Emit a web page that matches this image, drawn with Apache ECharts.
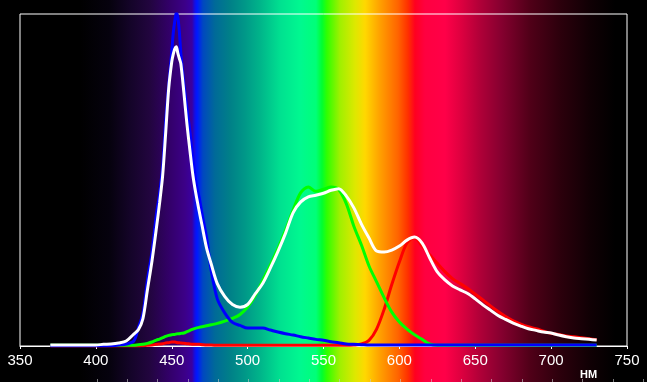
<!DOCTYPE html>
<html>
<head>
<meta charset="utf-8">
<script src="https://cdn.jsdelivr.net/npm/echarts@6/dist/echarts.min.js"></script>
<style>
html,body{margin:0;padding:0;background:#000;}
#chart{width:647px;height:382px;}
</style>
</head>
<body>
<div id="chart"></div>
<script>
// Wavelengths, nm
const wavelengths = [370,380,390,400,405,410,415,420,425,428,431,434,437,440,442,444,446,448,450,451,452,453,454,455,456,458,460,462,464,466,468,470,473,476,480,485,490,495,500,505,510,515,520,525,530,535,540,545,550,555,560,565,570,575,580,585,590,595,600,605,610,615,620,625,630,635,640,645,650,655,660,665,670,675,680,685,690,695,700,705,710,715,720,725,730];

const whiteValues = [0.3,0.3,0.3,0.3,0.5,0.6,0.9,1.5,3.6,4.9,8.2,17,25.7,35.9,43.1,51.3,64.2,77.6,85.6,87.9,89.5,90.1,88.2,86.6,85,76.3,66.9,58.8,51.2,45.6,40.8,36.2,29.4,24.7,18.8,14.9,12.5,11.7,12.5,15.7,18.9,23.5,28.5,34,40.2,43.4,44.9,45.4,46,46.9,47.4,45.2,41.6,36.7,32.5,28.6,28.3,28.9,30.1,31.9,32.8,31,26.5,22.3,19.9,18.1,16.9,15.8,14.2,12.4,10.8,9.2,8,6.9,6,5.2,4.7,4.2,3.9,3.3,2.8,2.4,2.2,2,1.8];

const blueValues = [0,0,0,0,0,0.1,0.3,0.6,1.5,5.5,9.8,20,28.5,40,46,54,67.9,78.8,88.6,94.3,97.9,100.5,99,94.7,88.1,78.9,71.6,64.6,56.3,49,44.9,39.8,32.5,22.7,14.2,9.9,7.1,6.2,5.4,5.4,5.4,4.8,4.2,3.7,3.3,2.8,2.4,2,1.7,1.3,1,0.6,0.5,0.4,0.3,0.3,0.3,0.3,0.3,0.3,0.3,0.3,0.3,0.3,0.3,0.3,0.3,0.3,0.3,0.3,0.3,0.3,0.3,0.3,0.3,0.3,0.3,0.3,0.3,0.3,0.3,0.3,0.3,0.3,0.3];

const greenValues = [0.2,0.2,0.2,0.2,0.2,0.2,0.2,0.2,0.2,0.4,0.5,0.8,1.2,1.8,2.1,2.5,2.9,3.2,3.4,3.5,3.5,3.6,3.7,3.7,3.8,3.9,4.3,4.7,5.1,5.4,5.6,5.8,6.1,6.4,6.8,7.5,8.3,9.5,11.7,15.2,19.8,24.4,29.4,34.9,41,46.2,47.9,46.6,47.2,47.9,47.1,42.9,36.1,30.4,24.1,19.3,14.5,10.2,7.2,5.1,3.4,2,0.6,0.2,0.2,0.2,0.2,0.2,0.2,0.2,0.2,0.2,0.2,0.2,0.2,0.2,0.2,0.2,0.2,0.2,0.2,0.2,0.2,0.2,0.2];

const redValues = [0,0,0,0,0,0,0,0,0,0,0.1,0.2,0.3,0.5,0.6,0.7,0.9,1,1.2,1.2,1.2,1.1,1,1,0.9,0.8,0.7,0.6,0.5,0.5,0.5,0.4,0.3,0.3,0.2,0.2,0.2,0.2,0.2,0.2,0.2,0.2,0.2,0.2,0.2,0.2,0.2,0.2,0.2,0.2,0.2,0.2,0.3,0.6,1.7,5.1,11.1,18.5,25.3,31,32.7,30.1,27.5,24.9,22.4,20.3,18.8,17.3,15.6,13.9,12.1,10.4,8.9,7.6,6.6,5.8,5.2,4.5,3.8,3.5,3,2.8,2.5,2.2,1.9];

const xTickLabels = ['350','400','450','500','550','600','650','700','750'];
const unitLabel = 'НМ';

// spectrum background stops: [pixel x, colour]
const spectrumStops = [
  [0,'#000000'],[80,'#000000'],[110,'#06020e'],[130,'#140428'],[150,'#22053f'],
  [170,'#33006a'],[185,'#3c0088'],[192,'#3a00a0'],[195,'#1010e8'],[197,'#0018ff'],
  [203,'#0048c0'],[215,'#006a98'],[230,'#008088'],[245,'#009888'],[260,'#00b48a'],
  [280,'#00e090'],[300,'#00f890'],[316,'#00ff78'],[322,'#00ff30'],[327,'#30ff00'],
  [340,'#a0f000'],[355,'#dde800'],[365,'#ffd800'],[380,'#ffa000'],[398,'#ff6400'],
  [408,'#ff3000'],[415,'#ff0020'],[425,'#ff0040'],[445,'#ff0048'],[460,'#e00040'],
  [480,'#b00038'],[500,'#880030'],[530,'#500018'],[560,'#2c000c'],[590,'#100004'],
  [615,'#000000'],[647,'#000000']
];

const W = 647, H = 382;
const chart = echarts.init(document.getElementById('chart'), null, {renderer:'canvas'});

function pairs(vals){ return wavelengths.map((w,i)=>[w, vals[i]]); }
function lineSeries(name, vals, color){
  return {
    name, type:'line', xAxisIndex:0, yAxisIndex:0, data: pairs(vals),
    showSymbol:false, smooth:0.3, clip:true,
    lineStyle:{color, width:3}, itemStyle:{color}, silent:true
  };
}

chart.setOption({
  animation:false,
  backgroundColor:'#000',
  graphic:[
    {type:'rect', z:-10, silent:true, shape:{x:0,y:0,width:W,height:H},
     style:{fill:new echarts.graphic.LinearGradient(0,0,1,0,
        spectrumStops.map(s=>({offset:s[0]/W, color:s[1]})))}},
    {type:'text', left:580, top:369, silent:true,
     style:{text:unitLabel, fill:'#fff', font:'bold 11px "Liberation Sans", Arial, sans-serif'}}
  ],
  grid:[
    {left:20, right:20, top:14, bottom:36, show:true, borderColor:'#fff', borderWidth:1, backgroundColor:'transparent'},
    {left:96.9, right:3.8, top:0, bottom:0, show:false}
  ],
  xAxis:[
    {type:'value', gridIndex:0, min:350, max:750, interval:50,
     axisLine:{show:true, lineStyle:{color:'#fff', width:1}},
     axisTick:{show:true, inside:false, length:3, lineStyle:{color:'#fff'}},
     splitLine:{show:false},
     axisLabel:{color:'#fff', fontSize:15, margin:7, fontFamily:'"Liberation Sans", Arial, sans-serif',
       formatter:(v)=>xTickLabels[Math.round((v-350)/50)] || ''}},
    {type:'value', gridIndex:1, min:400, max:760, interval:20, position:'bottom',
     axisLine:{show:false}, axisLabel:{show:false}, splitLine:{show:false},
     axisTick:{show:true, inside:true, length:3, lineStyle:{color:'rgba(200,200,200,0.6)'}}}
  ],
  yAxis:[
    {type:'value', gridIndex:0, min:0, max:100, show:false},
    {type:'value', gridIndex:1, min:0, max:1, show:false}
  ],
  series:[
    lineSeries('red', redValues, '#ff0000'),
    lineSeries('green', greenValues, '#00ff00'),
    lineSeries('blue', blueValues, '#0000ff'),
    lineSeries('white', whiteValues, '#ffffff')
  ]
});
</script>
</body>
</html>
